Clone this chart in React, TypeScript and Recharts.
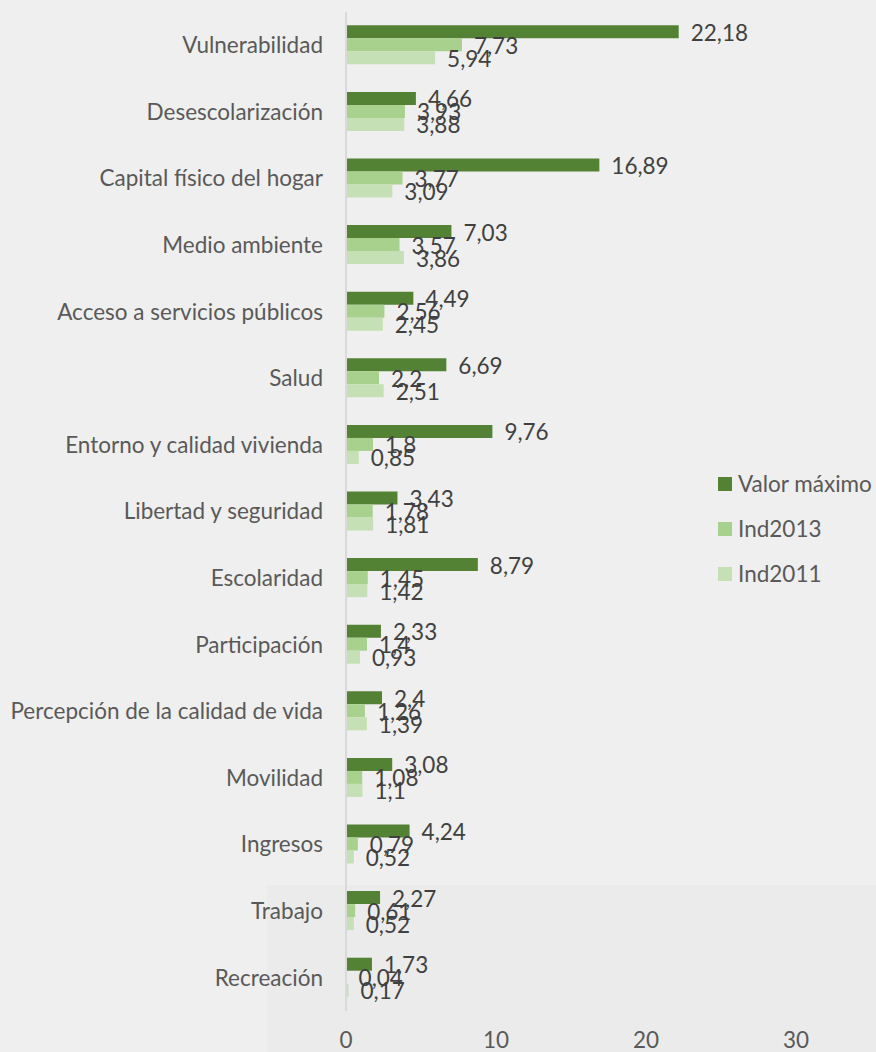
import { BarChart, Bar, XAxis, YAxis, LabelList } from "recharts";

const categories = [
  "Vulnerabilidad",
  "Desescolarización",
  "Capital físico del hogar",
  "Medio ambiente",
  "Acceso a servicios públicos",
  "Salud",
  "Entorno y calidad vivienda",
  "Libertad y seguridad",
  "Escolaridad",
  "Participación",
  "Percepción de la calidad de vida",
  "Movilidad",
  "Ingresos",
  "Trabajo",
  "Recreación",
];

const valorMaximo = [22.18, 4.66, 16.89, 7.03, 4.49, 6.69, 9.76, 3.43, 8.79, 2.33, 2.4, 3.08, 4.24, 2.27, 1.73];
const ind2013 = [7.73, 3.93, 3.77, 3.57, 2.56, 2.2, 1.8, 1.78, 1.45, 1.4, 1.26, 1.08, 0.79, 0.61, 0.04];
const ind2011 = [5.94, 3.88, 3.09, 3.86, 2.45, 2.51, 0.85, 1.81, 1.42, 0.93, 1.39, 1.1, 0.52, 0.52, 0.17];

const xTicks = [0, 10, 20, 30];

const series = [
  { key: "max", name: "Valor máximo", color: "#548235" },
  { key: "i2013", name: "Ind2013", color: "#a9d18e" },
  { key: "i2011", name: "Ind2011", color: "#c5e0b4" },
];

const data = categories.map((name, i) => ({
  name,
  max: valorMaximo[i],
  i2013: ind2013[i],
  i2011: ind2011[i],
}));

const FONT = "Lato, 'Open Sans', sans-serif";
const FS = 22.5;
const fmt = (v: any) => String(v).replace(".", ",");

export default function App() {
  return (
    <div
      style={{
        position: "absolute",
        left: 0,
        top: 0,
        width: 876,
        height: 1052,
        background: "#efefef",
        fontFamily: FONT,
        overflow: "hidden",
      }}
    >
      {/* slightly darker patch in the lower right of the original */}
      <div
        style={{
          position: "absolute",
          left: 267,
          top: 885,
          width: 609,
          height: 167,
          background: "#ebebeb",
        }}
      />
      <div style={{ position: "absolute", left: 0, top: 0 }}>
        <BarChart
          width={876}
          height={1052}
          data={data}
          layout="vertical"
          margin={{ top: 12, right: 5, bottom: 1, left: 0 }}
          barCategoryGap="20%"
          barGap={0}
        >
          <XAxis
            type="number"
            domain={[0, 35]}
            ticks={xTicks}
            axisLine={false}
            tickLine={false}
            tickMargin={15}
            height={40}
            tick={{ fill: "#595959", fontSize: FS, fontFamily: FONT }}
          />
          <YAxis
            type="category"
            dataKey="name"
            width={346}
            tickLine={false}
            tickMargin={17}
            axisLine={{ stroke: "#d9d9d9", strokeWidth: 2 }}
            interval={0}
            tick={{ fill: "#595959", fontSize: FS, fontFamily: FONT }}
          />
          {series.map((s) => (
            <Bar key={s.key} dataKey={s.key} name={s.name} fill={s.color} isAnimationActive={false}>
              <LabelList
                dataKey={s.key}
                position="right"
                offset={12}
                formatter={fmt}
                fill="#404040"
                fontSize={FS}
                fontFamily={FONT}
                dy={1}
              />
            </Bar>
          ))}
        </BarChart>
      </div>
      <div style={{ position: "absolute", left: 718, top: 461 }}>
        {series.map((s) => (
          <div key={s.key} style={{ display: "flex", alignItems: "center", height: 45 }}>
            <span style={{ width: 14, height: 14, background: s.color, marginRight: 6 }} />
            <span style={{ color: "#595959", fontSize: FS, whiteSpace: "nowrap" }}>{s.name}</span>
          </div>
        ))}
      </div>
    </div>
  );
}
